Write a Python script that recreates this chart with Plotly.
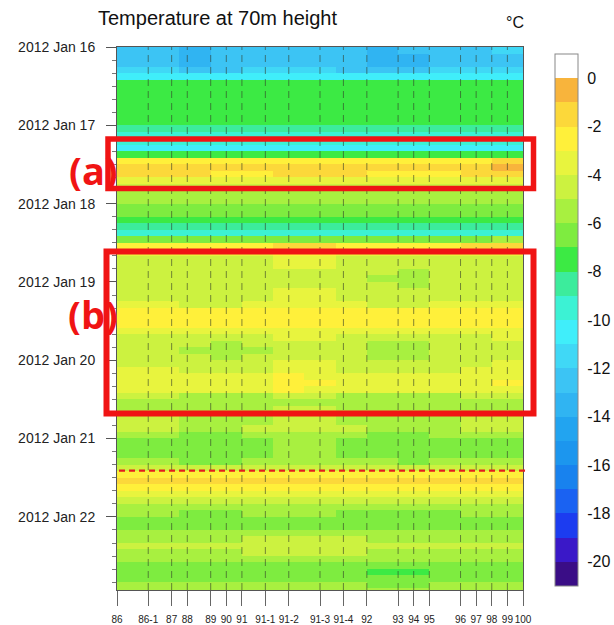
import plotly.graph_objects as go

# ---------------- data ----------------
x_tick_labels = ["86", "86-1", "87", "88", "89", "90", "91", "91-1", "91-2", "91-3",
                 "91-4", "92", "93", "94", "95", "96", "97", "98", "99", "100"]
x_tick_pos = [0, 4, 7, 9, 12, 14, 16, 19, 22, 26, 29, 32, 36, 38, 40, 44, 46, 48, 50, 52]

day_labels = ["2012 Jan 16", "2012 Jan 17", "2012 Jan 18", "2012 Jan 19",
              "2012 Jan 20", "2012 Jan 21", "2012 Jan 22"]
day_hours = [0, 24, 48, 72, 96, 120, 144]
end_hour = 166.4

# column groups along x (grid-point index centres)
group_centers = [2, 6, 10, 14, 18, 22, 26, 30, 34, 38, 42, 46, 50]

# 2-hourly time centres (hours since 2012-01-16 00:00)
hour_centers = list(range(1, 168, 2))

# row-mean temperature (degC), one value per 2 h
temp_profile = [
    -12.3, -12.6, -12.5, -11.9, -11.0, -7.6, -7.3, -7.2, -7.1, -7.2,
    -7.4, -7.9, -8.6, -9.3, -9.9, -10.1, -8.0, -2.6, -1.6, -2.1,
    -3.2, -4.2, -5.2, -5.7, -6.6, -6.9, -7.2, -8.8, -9.3, -6.5,
    -2.2, -3.4, -4.4, -4.3, -4.5, -4.6, -4.5, -4.3, -4.1, -3.8,
    -2.8, -2.6, -2.9, -3.6, -4.2, -4.4, -4.5, -4.4, -4.2, -4.0,
    -3.6, -3.2, -3.5, -4.8, -5.3, -5.2, -4.9, -4.8, -5.0, -5.8,
    -6.2, -6.3, -6.2, -5.6, -4.5, -2.7, -2.0, -2.7, -3.6, -4.4,
    -5.3, -5.8, -6.2, -6.3, -5.7, -5.2, -5.0, -5.2, -5.6, -6.3,
    -6.6, -6.5, -5.7, -5.5,
]

# local departures from the row mean (degC) for time blocks x column groups
anom_start = [0, 34, 58, 62, 80, 88, 101, 106, 117, 130, 140, 149, 158]
anom_end = [8, 40, 62, 80, 88, 101, 106, 117, 128, 136, 149, 158, 166]
anom_vals = [
    [0, 0, -0.8, -0.4, 0, 0, 0, -0.4, -0.8, -0.7, 0, 0, 0.4],
    [0.4, 0.2, 0.2, 0, 0, 0.3, 0.5, 0.1, -0.2, -0.3, -0.2, 0.2, 0.7],
    [0, 0, 0, 0, 0, 0.3, 0.3, 0, 0, 0, 0, 0.2, 0.6],
    [0, 0, -0.4, -0.4, 0, 0.4, 0.4, 0, -0.5, -0.6, -0.2, 0, 0],
    [0.2, 0.2, 0, 0, 0.1, 0.5, 0.5, 0, 0, 0, 0, 0.2, 0.3],
    [0, 0, -0.6, -0.7, -0.6, 0.2, 0.3, -0.5, -0.7, -0.7, -0.5, 0, 0.2],
    [0, 0, 0, 0, 0, 0.6, 0.4, 0, 0, 0, 0, 0, 0.4],
    [0, 0, -0.3, -0.5, -0.5, 0.2, 0.2, -0.3, -0.5, -0.5, -0.3, 0, 0],
    [0, 0, -0.5, -0.5, 0, 0.4, 0.3, 0, -0.3, -0.5, -0.2, 0, 0],
    [0, 0.4, 0, 0, 0, 0.3, 0.4, 0, 0, 0, 0, 0.2, 0.4],
    [0, 0, -0.3, -0.5, 0, 0, 0, -0.5, -0.5, -0.5, -0.3, 0, 0],
    [0, 0, 0, 0, 0.3, 0.5, 0.5, 0.2, 0, 0, 0, 0, 0],
    [0, 0, -0.3, -0.3, 0, 0, 0, -0.3, -0.5, -0.5, -0.3, 0, 0],
]

event_hour = 129.8  # red dashed marker

# colour levels (degC) and fill colours, from -21 up to +1
level_lo = -21
level_hi = 1
bin_colors = ["#3A0D86", "#3A18C8", "#1C3CF0", "#1A62F2", "#1882EE", "#1C96EE",
              "#22A4F0", "#30B4F2", "#3CC4F4", "#40D8F6", "#40EEFA", "#3CF2D4",
              "#3CEC9C", "#3CEA44", "#7EEC40", "#A8F040", "#CCF240", "#E8F43E",
              "#FFF03A", "#FCD83A", "#F8B43C", "#FFFFFF"]
cbar_ticks = [0, -2, -4, -6, -8, -10, -12, -14, -16, -18, -20]


def anomaly(h, g):
    for s, e, vals in zip(anom_start, anom_end, anom_vals):
        if s <= h < e:
            return vals[g]
    return 0.0


z = [[temp_profile[i] + anomaly(h, g) for g in range(len(group_centers))]
     for i, h in enumerate(hour_centers)]

n = len(bin_colors)
colorscale = []
for k, c in enumerate(bin_colors):
    colorscale.append([k / n, c])
    colorscale.append([(k + 1) / n, c])

# ---------------- geometry helpers (pixels -> paper) ----------------
W, H = 614, 625
L, R, T, B = 117, 91, 47, 35
PW, PH = W - L - R, H - T - B


def px(xp):
    return (xp - L) / PW


def py(yp):
    return (H - B - yp) / PH


SANS = "Liberation Sans, Arial, Helvetica, sans-serif"
BOLD = "Open Sans, Lato, sans-serif"

fig = go.Figure()
fig.add_trace(go.Heatmap(
    x=group_centers, y=hour_centers, z=z,
    zmin=level_lo, zmax=level_hi, colorscale=colorscale,
    xgap=0, ygap=0, hoverinfo="skip",
    colorbar=dict(
        thickness=23, thicknessmode="pixels",
        len=532, lenmode="pixels",
        x=px(555), xanchor="left", xpad=0,
        y=py(54), yanchor="top", ypad=0,
        outlinecolor="#888888", outlinewidth=1,
        tickmode="array", tickvals=cbar_ticks,
        ticktext=[str(v) for v in cbar_ticks],
        ticks="outside", ticklen=6, tickcolor="rgba(0,0,0,0)",
        tickfont=dict(family=SANS, size=16, color="#111111"),
    ),
))

# dashed vertical guide lines at interior x ticks
for xv in x_tick_pos[1:-1]:
    fig.add_shape(type="line", xref="x", yref="paper", x0=xv, x1=xv, y0=0, y1=1,
                  line=dict(color="rgba(50,60,40,0.6)", width=1, dash="7px,5px"),
                  layer="above")

# red dashed event line
fig.add_shape(type="line", xref="paper", yref="y", x0=0.005, x1=1.01,
              y0=event_hour, y1=event_hour,
              line=dict(color="#E41E1E", width=2.2, dash="6px,4px"), layer="above")

# red highlight boxes
fig.add_shape(type="rect", xref="paper", yref="paper",
              x0=px(108), x1=px(533.5), y0=py(188.5), y1=py(139),
              line=dict(color="#F01414", width=5.5), layer="above")
fig.add_shape(type="rect", xref="paper", yref="paper",
              x0=px(106.5), x1=px(533.5), y0=py(413.5), y1=py(251.5),
              line=dict(color="#F01414", width=6), layer="above")

fig.add_annotation(text="<b>(a)</b>", xref="paper", yref="paper",
                   x=px(93), y=py(170), xanchor="center", yanchor="middle",
                   showarrow=False, font=dict(family=BOLD, size=38, color="#F01414"))
fig.add_annotation(text="<b>(b)</b>", xref="paper", yref="paper",
                   x=px(93), y=py(314), xanchor="center", yanchor="middle",
                   showarrow=False, font=dict(family=BOLD, size=38, color="#F01414"))

# title and unit
fig.add_annotation(text="Temperature at 70m height", xref="paper", yref="paper",
                   x=px(96), y=py(18), xanchor="left", yanchor="middle",
                   showarrow=False, font=dict(family=SANS, size=20, color="#111111"))
fig.add_annotation(text="°C", xref="paper", yref="paper",
                   x=px(515), y=py(22), xanchor="center", yanchor="middle",
                   showarrow=False, font=dict(family=SANS, size=16, color="#111111"))

fig.update_layout(
    width=W, height=H,
    margin=dict(l=L, r=R, t=T, b=B, autoexpand=False),
    paper_bgcolor="white", plot_bgcolor="white",
    showlegend=False,
    xaxis=dict(
        range=[0, 52], tickmode="array", tickvals=x_tick_pos, ticktext=x_tick_labels,
        tickangle=0,
        ticks="outside", ticklen=15, tickcolor="#666666", tickwidth=1,
        tickfont=dict(family=SANS, size=10, color="#222222"),
        showgrid=False, zeroline=False,
        showline=True, linecolor="#555555", linewidth=1, mirror=True,
        ticklabelstandoff=5, automargin=False,
    ),
    yaxis=dict(
        range=[end_hour, 0], tickmode="array", tickvals=day_hours, ticktext=day_labels,
        ticks="outside", ticklen=10, tickcolor="#555555", tickwidth=1,
        tickfont=dict(family=SANS, size=14, color="#222222"),
        minor=dict(dtick=4, tick0=0, ticks="outside", ticklen=4,
                   tickcolor="#777777", showgrid=False),
        showgrid=False, zeroline=False,
        showline=True, linecolor="#555555", linewidth=1, mirror=True,
        ticklabelstandoff=8, automargin=False,
    ),
)

fig.write_html("out.html", config={"displayModeBar": False},
               post_script="document.body.style.margin='0px';document.body.style.padding='0px';")
